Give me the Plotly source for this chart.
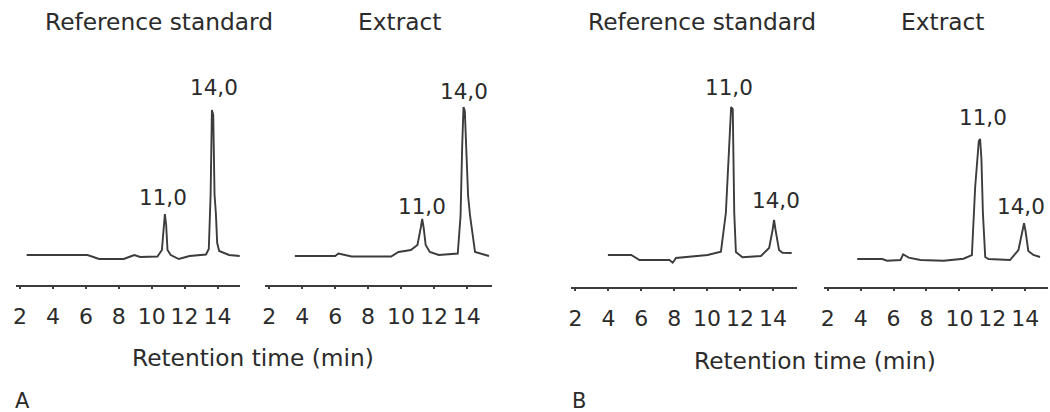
import plotly.graph_objects as go

# ---------------- data (retention time in min, detector signal in arbitrary units) -------------
tick_vals = [2, 4, 6, 8, 10, 12, 14]
tick_text = ["2", "4", "6", "8", "10", "12", "14"]

panel_titles = ["Reference standard", "Extract", "Reference standard", "Extract"]
group_labels = ["A", "B"]
axis_title = "Retention time (min)"

# A - reference standard
a_ref_t = [2.4, 6.1, 6.8, 8.3, 8.7, 8.95, 9.3, 10.35, 10.62, 10.72, 10.8, 10.88, 10.96, 11.16, 11.65,
           12.3, 13.3, 13.47, 13.58, 13.66, 13.74, 13.82, 13.9, 13.98, 14.1, 14.7, 15.35]
a_ref_y = [0, 0, -4, -4, -1.5, 0, -2, -1.5, 5, 30, 41, 30, 5, 0, -4,
           -1, 0.5, 6, 60, 145, 140, 60, 42, 12, 4, 0, -1]

# A - extract
a_ext_t = [3.55, 5.1, 6.0, 6.2, 7.0, 9.4, 9.85, 10.6, 11.0, 11.2, 11.29, 11.38, 11.5, 11.75, 12.3,
           13.45, 13.62, 13.72, 13.8, 13.88, 13.98, 14.08, 14.2, 14.5, 15.35]
a_ext_y = [0, 0, 0, 2.5, -0.5, -0.5, 4, 6, 11, 28, 37, 28, 11, 4, 1,
           2.5, 40, 110, 149, 145, 100, 60, 40, 4, 0]

# B - reference standard
b_ref_t = [3.97, 5.39, 5.89, 7.71, 7.91, 8.11, 10.03, 10.84, 11.14, 11.31, 11.46, 11.56, 11.65, 11.75,
           12.15, 13.27, 13.77, 13.98, 14.07, 14.16, 14.37, 14.58, 15.14]
b_ref_y = [0, 0, -5, -5, -7.7, -3, 0, 3.3, 42, 95, 148, 146, 42, 3,
           -2.3, -1, 7, 25, 35, 25, 5, 2.3, 2]

# B - extract
b_ext_t = [3.79, 5.31, 5.61, 6.42, 6.58, 6.92, 7.63, 9.04, 10.25, 10.76, 10.96, 11.18, 11.26, 11.34,
           11.43, 11.57, 11.77, 13.08, 13.59, 13.84, 13.93, 14.02, 14.19, 14.5, 14.9]
b_ext_y = [0, 0, -1.7, -1, 4.7, 1.4, -1, -1.7, 0.3, 4, 72, 118, 120, 100,
           46, 2, 0, -1, 9, 30, 35.7, 28, 8, 4, 2]

# peak labels: label text, retention time at label, peak height
peak_text = ["11,0", "14,0"]
a_ref_peaks_t = [10.7, 13.79]
a_ref_peaks_h = [41, 145]
a_ext_peaks_t = [11.3, 13.82]
a_ext_peaks_h = [37, 149]
b_ref_peaks_t = [11.34, 14.17]
b_ref_peaks_h = [148, 35]
b_ext_peaks_t = [11.43, 13.74]
b_ext_peaks_h = [120, 35.7]

# ---------------- layout helpers (pixel geometry of the 1050x412 canvas) -------------
W, H = 1050, 412
PX_PER_MIN = 16.5
T0 = 1.75
TOP_PX = 40

panels = [
    dict(t=a_ref_t, y=a_ref_y, pt=a_ref_peaks_t, ph=a_ref_peaks_h, x0=13, x1=238, axis=285, base=255,
         shifts=[17, 22]),
    dict(t=a_ext_t, y=a_ext_y, pt=a_ext_peaks_t, ph=a_ext_peaks_h, x0=263, x1=490, axis=285, base=256,
         shifts=[13, 15]),
    dict(t=b_ref_t, y=b_ref_y, pt=b_ref_peaks_t, ph=b_ref_peaks_h, x0=570, x1=796, axis=287, base=255,
         shifts=[19, 20]),
    dict(t=b_ext_t, y=b_ext_y, pt=b_ext_peaks_t, ph=b_ext_peaks_h, x0=823, x1=1048, axis=287, base=259,
         shifts=[22, 17]),
]

TEXT = "#2b2b2b"
LINE = "#3c3c3c"
FONT = "DejaVu Sans"

fig = go.Figure()
layout = dict(
    width=W, height=H,
    margin=dict(l=0, r=0, t=0, b=0),
    paper_bgcolor="white", plot_bgcolor="white",
    showlegend=False,
    font=dict(family=FONT, color=TEXT, size=22),
)
annotations = []

for i, p in enumerate(panels, start=1):
    xa = "x" if i == 1 else f"x{i}"
    ya = "y" if i == 1 else f"y{i}"
    xkey = "xaxis" if i == 1 else f"xaxis{i}"
    ykey = "yaxis" if i == 1 else f"yaxis{i}"

    fig.add_trace(go.Scatter(x=p["t"], y=p["y"], mode="lines", xaxis=xa, yaxis=ya,
                             line=dict(color=LINE, width=1.9), hoverinfo="skip"))

    width_px = p["x1"] - p["x0"]
    height_px = p["axis"] - TOP_PX
    below = p["axis"] - p["base"]
    layout[xkey] = dict(
        domain=[p["x0"] / W, p["x1"] / W],
        anchor=ya,
        range=[T0, T0 + width_px / PX_PER_MIN],
        showgrid=False, zeroline=False,
        showline=True, linecolor=LINE, linewidth=2,
        ticks="outside", ticklen=2, tickwidth=2, tickcolor=LINE,
        tickvals=tick_vals, ticktext=tick_text,
        tickfont=dict(family=FONT, size=22, color=TEXT),
        ticklabelstandoff=9,
        fixedrange=True,
    )
    layout[ykey] = dict(
        domain=[1 - p["axis"] / H, 1 - TOP_PX / H],
        anchor=xa,
        range=[-below, height_px - below],
        visible=False, showgrid=False, zeroline=False,
        fixedrange=True,
    )

    for txt, t, h, sh in zip(peak_text, p["pt"], p["ph"], p["shifts"]):
        annotations.append(dict(x=t, y=h, xref=xa, yref=ya, text=txt, showarrow=False,
                                xanchor="center", yanchor="middle", yshift=sh,
                                font=dict(family=FONT, size=21.5, color=TEXT)))

# panel titles
title_pos = [(156, 22), (398, 22), (701, 22), (942, 22)]
for txt, (px, py) in zip(panel_titles, title_pos):
    annotations.append(dict(x=px / W, y=1 - py / H, xref="paper", yref="paper", text=txt,
                            showarrow=False, xanchor="center", yanchor="middle",
                            font=dict(family=FONT, size=23.3, color=TEXT)))

# shared axis titles
for px, py in [(251, 357), (814, 360)]:
    annotations.append(dict(x=px / W, y=1 - py / H, xref="paper", yref="paper", text=axis_title,
                            showarrow=False, xanchor="center", yanchor="middle",
                            font=dict(family=FONT, size=23.3, color=TEXT)))

# group letters
for txt, (px, py) in zip(group_labels, [(20, 401), (578, 401)]):
    annotations.append(dict(x=px / W, y=1 - py / H, xref="paper", yref="paper", text=txt,
                            showarrow=False, xanchor="center", yanchor="middle",
                            font=dict(family=FONT, size=21, color=TEXT)))

layout["annotations"] = annotations
fig.update_layout(**layout)
fig.write_html("out.html",
               config={"displayModeBar": False, "staticPlot": True},
               post_script="document.body.style.margin='0';document.body.style.overflow='hidden';")
